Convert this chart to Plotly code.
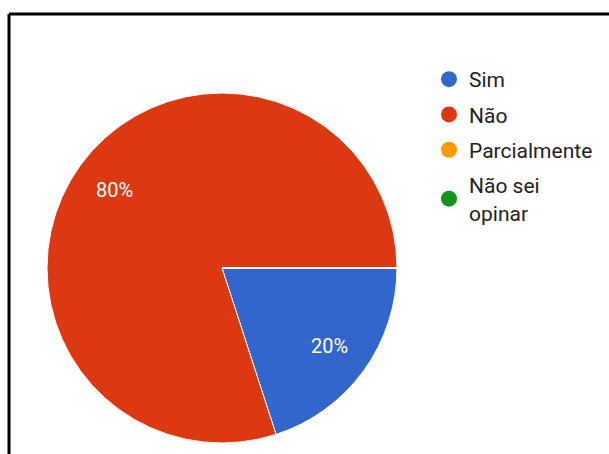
import math
import plotly.graph_objects as go

labels = ["Sim", "Não", "Parcialmente", "Não sei opinar"]
legend_labels = ["Sim", "Não", "Parcialmente", "Não sei<br>opinar"]
values = [20, 80, 0, 0]
colors = ["#3366cc", "#dc3912", "#ff9900", "#109618"]

W, H = 609, 454
cx, cy, r = 222, 268, 175
start_deg = 90  # first slice starts at 3 o'clock, clockwise

fig = go.Figure()
fig.add_trace(go.Pie(
    labels=labels, values=values, sort=False, direction="clockwise", rotation=start_deg,
    marker=dict(colors=colors, line=dict(color="white", width=1)),
    textinfo="none", showlegend=False, hoverinfo="label+percent",
    domain=dict(x=[(cx - r) / W, (cx + r) / W], y=[(H - cy - r) / H, (H - cy + r) / H]),
))

# percentage labels placed at each slice's mid-angle
total = sum(values)
acc = 0
annotations = []
for v in values:
    if v > 0:
        mid = math.radians(start_deg + (acc + v / 2) / total * 360)
        rr = 0.76 * r
        px = cx + rr * math.sin(mid)
        py = cy - rr * math.cos(mid)
        annotations.append(dict(
            x=px / W, y=1 - py / H, xref="paper", yref="paper", showarrow=False,
            text=f"{round(v / total * 100)}%",
            font=dict(family="Roboto", size=20, color="white"),
            xanchor="center", yanchor="middle",
        ))
    acc += v

for i, (lab, col) in enumerate(zip(legend_labels, colors)):
    fig.add_trace(go.Scatter(
        x=[None], y=[None], mode="markers", name=lab, legendgroup=f"g{i}",
        marker=dict(symbol="circle", size=19, color=col),
    ))

fig.update_layout(
    width=W, height=H, margin=dict(l=0, r=0, t=0, b=0),
    paper_bgcolor="white", plot_bgcolor="white",
    xaxis=dict(visible=False), yaxis=dict(visible=False),
    annotations=annotations,
    legend=dict(x=429 / W, y=1 - 59 / H, xanchor="left", yanchor="top",
                font=dict(family="Roboto", size=21, color="#222222"),
                itemwidth=30, tracegroupgap=5, bgcolor="rgba(0,0,0,0)"),
    shapes=[
        dict(type="line", xref="paper", yref="paper", x0=9 / W, x1=9 / W, y0=0, y1=1 - 14 / H,
             line=dict(color="black", width=3)),
        dict(type="line", xref="paper", yref="paper", x0=9 / W, x1=1, y0=1 - 14 / H, y1=1 - 14 / H,
             line=dict(color="black", width=3)),
    ],
)
fig.write_html("out.html")
